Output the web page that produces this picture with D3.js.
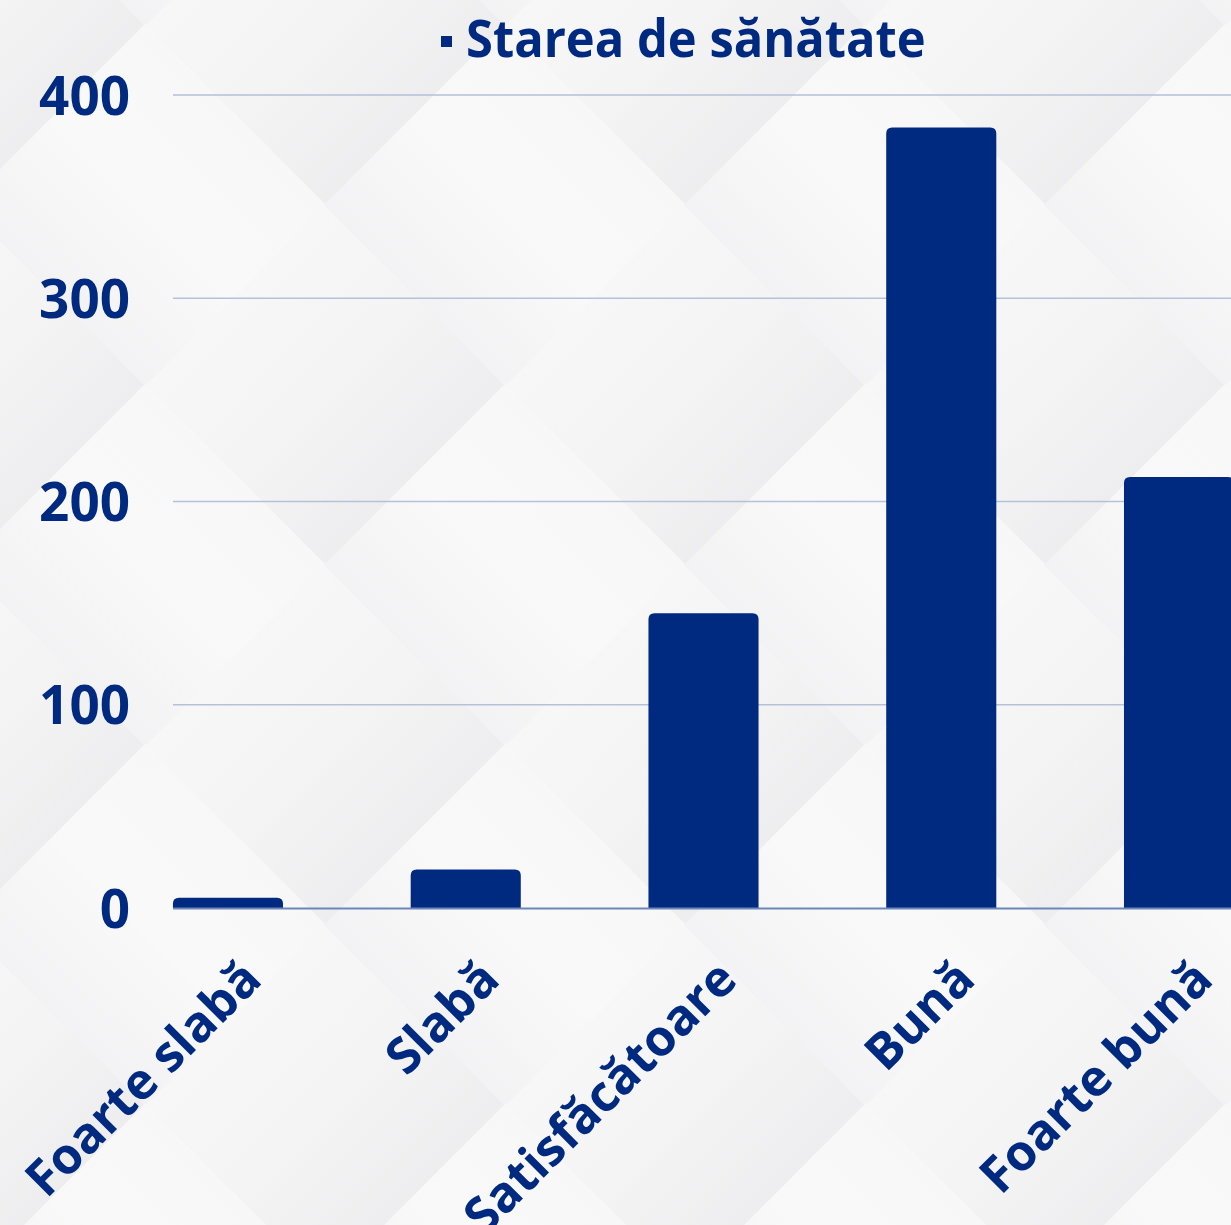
<!DOCTYPE html>
<html>
<head>
<meta charset="utf-8">
<script src="https://cdn.jsdelivr.net/npm/d3@7"></script>
<style>
html,body{margin:0;padding:0;background:#f3f3f4;overflow:hidden;}
svg{display:block;}
</style>
</head>
<body>
<svg id="chart" width="1231" height="1225"></svg>
<script>
const categories = ["Foarte slabă", "Slabă", "Satisfăcătoare", "Bună", "Foarte bună"];
const values = [5, 19, 145, 384, 212];
const yTicks = [0, 100, 200, 300, 400];
const seriesName = "Starea de sănătate";

const W = 1231, H = 1225;
const navy = "#002a80";
const FONT = "'Open Sans', 'Noto Sans', sans-serif";
const svg = d3.select("#chart");
const defs = svg.append("defs");

// background diamond lattice (decorative)
const g1 = defs.append("linearGradient").attr("id","dg").attr("x1","0").attr("y1","0").attr("x2","1").attr("y2","1");
g1.append("stop").attr("offset","0").attr("stop-color","#fafafb");
g1.append("stop").attr("offset","0.5").attr("stop-color","#f4f4f5");
g1.append("stop").attr("offset","1").attr("stop-color","#e7e7e9");
const g2 = defs.append("linearGradient").attr("id","dg2").attr("x1","1").attr("y1","0").attr("x2","0").attr("y2","1");
g2.append("stop").attr("offset","0").attr("stop-color","#f6f6f7");
g2.append("stop").attr("offset","0.5").attr("stop-color","#f9f9fa");
g2.append("stop").attr("offset","1").attr("stop-color","#ececee");
const bg = svg.append("g");
const hd = 181;
for (let i=-2;i<6;i++) for (let j=-2;j<6;j++){
  [[325+360*i,385+360*j,"url(#dg)"],[145+360*i,205+360*j,"url(#dg2)"]].forEach(([cx,cy,f])=>{
    bg.append("path").attr("d",`M${cx-hd},${cy} L${cx},${cy-hd} L${cx+hd},${cy} L${cx},${cy+hd} Z`).attr("fill",f);
  });
}

const y = d3.scaleLinear().domain([0,400]).range([908,95]);
const x = d3.scaleBand().domain(categories).range([109.1,1297.9]).paddingInner(0.537).paddingOuter(0.2685);
const plotLeft = 173;

// gridlines
svg.append("g").selectAll("line").data(yTicks.filter(d=>d>0)).join("line")
  .attr("x1",plotLeft).attr("x2",W).attr("y1",d=>y(d)).attr("y2",d=>y(d))
  .attr("stroke","#b5c1d9").attr("stroke-width",1.3);

// y axis labels
const yAxis = d3.axisLeft(y).tickValues(yTicks).tickSize(0).tickPadding(0);
const ya = svg.append("g").attr("transform","translate(130,0)").call(yAxis);
ya.select(".domain").remove();
ya.selectAll("text").attr("fill",navy).style("font-family",FONT).style("font-weight","700").style("font-size","53px").attr("dy","0.36em");

// bars with rounded top
const r = 6;
function barPath(d,i){
  const x0 = x(categories[i]), w = x.bandwidth(), y0 = y(0), y1 = y(d);
  const h = y0 - y1, rr = Math.min(r,h);
  return `M${x0},${y0} L${x0},${y1+rr} Q${x0},${y1} ${x0+rr},${y1} L${x0+w-rr},${y1} Q${x0+w},${y1} ${x0+w},${y1+rr} L${x0+w},${y0} Z`;
}
svg.append("g").selectAll("path").data(values).join("path").attr("d",barPath).attr("fill",navy);

// x axis line
svg.append("line").attr("x1",plotLeft).attr("x2",W).attr("y1",y(0)+0.5).attr("y2",y(0)+0.5)
  .attr("stroke","#6c86b9").attr("stroke-width",2);

// x labels
const xAxis = d3.axisBottom(x).tickSize(0).tickPadding(0);
const xa = svg.append("g").attr("transform",`translate(0,${y(0)})`).call(xAxis);
xa.select(".domain").remove();
xa.selectAll("text").attr("fill",navy).style("font-family",FONT).style("font-weight","700").style("font-size","50px")
  .attr("text-anchor","end").attr("dy","0").attr("y",0)
  .attr("transform","translate(36,74) rotate(-45)");

// legend
const lg = svg.append("g");
lg.append("rect").attr("x",441).attr("y",36).attr("width",11).attr("height",11).attr("fill",navy);
lg.append("text").attr("x",0).attr("y",0).text(seriesName).attr("fill",navy)
  .attr("transform","translate(466,57) scale(0.94,1)")
  .style("font-family",FONT).style("font-weight","700").style("font-size","52px");
</script>
</body>
</html>
